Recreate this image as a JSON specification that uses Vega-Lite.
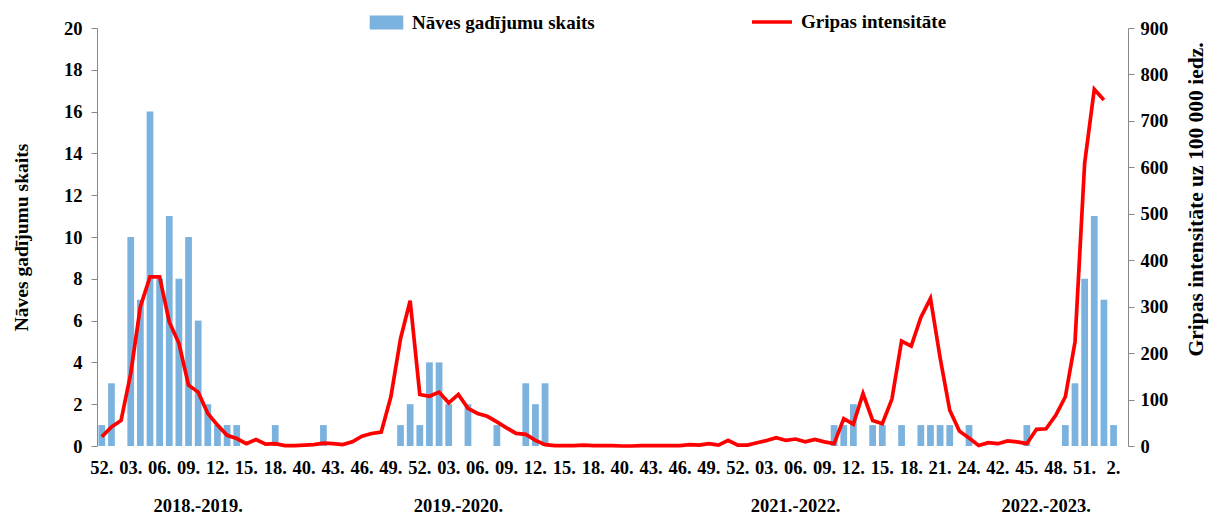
{
  "$schema": "https://vega.github.io/schema/vega-lite/v6.json",
  "width": 1031,
  "height": 418,
  "autosize": {"type": "none"},
  "padding": {"left": 97, "top": 28, "right": 91, "bottom": 84},
  "background": "white",
  "config": {
    "view": {"stroke": null},
    "font": "Liberation Serif",
    "axis": {"labelFont": "Liberation Serif", "titleFont": "Liberation Serif", "labelFontWeight": "bold", "titleFontWeight": "bold", "labelColor": "black", "titleColor": "black", "grid": false, "domainColor": "#898989", "tickColor": "#898989"},
    "legend": {"labelFont": "Liberation Serif", "labelFontWeight": "bold", "labelColor": "black", "labelFontSize": 19, "padding": 0, "labelLimit": 400}
  },
  "data": {"values": [
    {"i":0,"week":52,"deaths":1,"intensity":20},
    {"i":1,"week":1,"deaths":3,"intensity":41},
    {"i":2,"week":2,"deaths":0,"intensity":55},
    {"i":3,"week":3,"deaths":10,"intensity":156},
    {"i":4,"week":4,"deaths":7,"intensity":300},
    {"i":5,"week":5,"deaths":16,"intensity":364},
    {"i":6,"week":6,"deaths":8,"intensity":364},
    {"i":7,"week":7,"deaths":11,"intensity":267},
    {"i":8,"week":8,"deaths":8,"intensity":221},
    {"i":9,"week":9,"deaths":10,"intensity":131},
    {"i":10,"week":10,"deaths":6,"intensity":116},
    {"i":11,"week":11,"deaths":2,"intensity":70},
    {"i":12,"week":12,"deaths":1,"intensity":45},
    {"i":13,"week":13,"deaths":1,"intensity":23},
    {"i":14,"week":14,"deaths":1,"intensity":16},
    {"i":15,"week":15,"deaths":0,"intensity":5},
    {"i":16,"week":16,"deaths":0,"intensity":14},
    {"i":17,"week":17,"deaths":0,"intensity":4},
    {"i":18,"week":18,"deaths":1,"intensity":5},
    {"i":19,"week":19,"deaths":0,"intensity":1},
    {"i":20,"week":20,"deaths":0,"intensity":1},
    {"i":21,"week":40,"deaths":0,"intensity":2},
    {"i":22,"week":41,"deaths":0,"intensity":3},
    {"i":23,"week":42,"deaths":1,"intensity":6},
    {"i":24,"week":43,"deaths":0,"intensity":5},
    {"i":25,"week":44,"deaths":0,"intensity":3},
    {"i":26,"week":45,"deaths":0,"intensity":9},
    {"i":27,"week":46,"deaths":0,"intensity":21},
    {"i":28,"week":47,"deaths":0,"intensity":27},
    {"i":29,"week":48,"deaths":0,"intensity":30},
    {"i":30,"week":49,"deaths":0,"intensity":106},
    {"i":31,"week":50,"deaths":1,"intensity":231},
    {"i":32,"week":51,"deaths":2,"intensity":313},
    {"i":33,"week":52,"deaths":1,"intensity":111},
    {"i":34,"week":1,"deaths":4,"intensity":107},
    {"i":35,"week":2,"deaths":4,"intensity":116},
    {"i":36,"week":3,"deaths":2,"intensity":93},
    {"i":37,"week":4,"deaths":0,"intensity":111},
    {"i":38,"week":5,"deaths":2,"intensity":81},
    {"i":39,"week":6,"deaths":0,"intensity":70},
    {"i":40,"week":7,"deaths":0,"intensity":64},
    {"i":41,"week":8,"deaths":1,"intensity":52},
    {"i":42,"week":9,"deaths":0,"intensity":39},
    {"i":43,"week":10,"deaths":0,"intensity":27},
    {"i":44,"week":11,"deaths":3,"intensity":25},
    {"i":45,"week":12,"deaths":2,"intensity":12},
    {"i":46,"week":13,"deaths":3,"intensity":3},
    {"i":47,"week":14,"deaths":0,"intensity":1},
    {"i":48,"week":15,"deaths":0,"intensity":1},
    {"i":49,"week":16,"deaths":0,"intensity":1},
    {"i":50,"week":17,"deaths":0,"intensity":2},
    {"i":51,"week":18,"deaths":0,"intensity":1},
    {"i":52,"week":19,"deaths":0,"intensity":1},
    {"i":53,"week":20,"deaths":0,"intensity":1},
    {"i":54,"week":40,"deaths":0,"intensity":0},
    {"i":55,"week":41,"deaths":0,"intensity":0},
    {"i":56,"week":42,"deaths":0,"intensity":1},
    {"i":57,"week":43,"deaths":0,"intensity":1},
    {"i":58,"week":44,"deaths":0,"intensity":1},
    {"i":59,"week":45,"deaths":0,"intensity":1},
    {"i":60,"week":46,"deaths":0,"intensity":1},
    {"i":61,"week":47,"deaths":0,"intensity":3},
    {"i":62,"week":48,"deaths":0,"intensity":2},
    {"i":63,"week":49,"deaths":0,"intensity":5},
    {"i":64,"week":50,"deaths":0,"intensity":2},
    {"i":65,"week":51,"deaths":0,"intensity":12},
    {"i":66,"week":52,"deaths":0,"intensity":2},
    {"i":67,"week":1,"deaths":0,"intensity":2},
    {"i":68,"week":2,"deaths":0,"intensity":7},
    {"i":69,"week":3,"deaths":0,"intensity":12},
    {"i":70,"week":4,"deaths":0,"intensity":18},
    {"i":71,"week":5,"deaths":0,"intensity":12},
    {"i":72,"week":6,"deaths":0,"intensity":15},
    {"i":73,"week":7,"deaths":0,"intensity":9},
    {"i":74,"week":8,"deaths":0,"intensity":14},
    {"i":75,"week":9,"deaths":0,"intensity":9},
    {"i":76,"week":10,"deaths":1,"intensity":5},
    {"i":77,"week":11,"deaths":1,"intensity":59},
    {"i":78,"week":12,"deaths":2,"intensity":47},
    {"i":79,"week":13,"deaths":0,"intensity":113},
    {"i":80,"week":14,"deaths":1,"intensity":55},
    {"i":81,"week":15,"deaths":1,"intensity":48},
    {"i":82,"week":16,"deaths":0,"intensity":101},
    {"i":83,"week":17,"deaths":1,"intensity":226},
    {"i":84,"week":18,"deaths":0,"intensity":215},
    {"i":85,"week":19,"deaths":1,"intensity":277},
    {"i":86,"week":20,"deaths":1,"intensity":318},
    {"i":87,"week":21,"deaths":1,"intensity":190},
    {"i":88,"week":22,"deaths":1,"intensity":77},
    {"i":89,"week":23,"deaths":0,"intensity":32},
    {"i":90,"week":24,"deaths":1,"intensity":17},
    {"i":91,"week":40,"deaths":0,"intensity":1},
    {"i":92,"week":41,"deaths":0,"intensity":7},
    {"i":93,"week":42,"deaths":0,"intensity":5},
    {"i":94,"week":43,"deaths":0,"intensity":11},
    {"i":95,"week":44,"deaths":0,"intensity":9},
    {"i":96,"week":45,"deaths":1,"intensity":5},
    {"i":97,"week":46,"deaths":0,"intensity":36},
    {"i":98,"week":47,"deaths":0,"intensity":37},
    {"i":99,"week":48,"deaths":0,"intensity":66},
    {"i":100,"week":49,"deaths":1,"intensity":106},
    {"i":101,"week":50,"deaths":3,"intensity":224},
    {"i":102,"week":51,"deaths":8,"intensity":609},
    {"i":103,"week":52,"deaths":11,"intensity":768},
    {"i":104,"week":1,"deaths":7,"intensity":745},
    {"i":105,"week":2,"deaths":1,"intensity":null},
    {"i":106,"week":3,"deaths":null,"intensity":null}
  ]},
  "layer": [
    {
      "mark": {"type": "bar"},
      "encoding": {
        "x": {
          "field": "i", "type": "ordinal",
          "scale": {"domain": [0,1,2,3,4,5,6,7,8,9,10,11,12,13,14,15,16,17,18,19,20,21,22,23,24,25,26,27,28,29,30,31,32,33,34,35,36,37,38,39,40,41,42,43,44,45,46,47,48,49,50,51,52,53,54,55,56,57,58,59,60,61,62,63,64,65,66,67,68,69,70,71,72,73,74,75,76,77,78,79,80,81,82,83,84,85,86,87,88,89,90,91,92,93,94,95,96,97,98,99,100,101,102,103,104,105,106], "paddingInner": 0.3, "paddingOuter": 0.15},
          "axis": {
            "title": null, "orient": "bottom",
            "values": [0,3,6,9,12,15,18,21,24,27,30,33,36,39,42,45,48,51,54,57,60,63,66,69,72,75,78,81,84,87,90,93,96,99,102,105],
            "labelExpr": "['52.','03.','06.','09.','12.','15.','18.','40.','43.','46.','49.','52.','03.','06.','09.','12.','15.','18.','40.','43.','46.','49.','52.','03.','06.','09.','12.','15.','18.','21.','24.','42.','45.','48.','51.','2.'][datum.value/3]",
            "labelAngle": 0, "ticks": false, "domain": false, "labelPadding": 12, "labelFontSize": 18.5, "labelOverlap": false, "labelFlush": false
          }
        },
        "y": {
          "field": "deaths", "type": "quantitative",
          "scale": {"domain": [0, 20], "nice": false},
          "axis": {"title": "Nāves gadījumu skaits", "values": [0,2,4,6,8,10,12,14,16,18,20], "tickSize": 6, "labelPadding": 9, "titlePadding": 32, "labelFontSize": 18.5, "titleFontSize": 19.5}
        },
        "color": {
          "datum": "Nāves gadījumu skaits", "type": "nominal",
          "scale": {"range": ["#7cb2de"]},
          "legend": {"orient": "none", "legendX": 280, "legendY": -15, "title": null, "symbolType": "M-2.4,-1H2.4V1H-2.4Z", "symbolSize": 196, "symbolStrokeWidth": 0, "labelOffset": 16}
        }
      }
    },
    {
      "mark": {"type": "line", "strokeWidth": 3.7},
      "encoding": {
        "x": {
          "field": "i", "type": "ordinal",
          "axis": {
            "title": null, "orient": "bottom",
            "values": [10, 37, 72, 98],
            "labelExpr": "datum.value == 10 ? '2018.-2019.' : datum.value == 37 ? '2019.-2020.' : datum.value == 72 ? '2021.-2022.' : '2022.-2023.'",
            "labelAngle": 0, "ticks": false, "domain": false, "labelPadding": 50, "labelFontSize": 18.5, "labelOverlap": false, "labelFlush": false
          }
        },
        "y": {
          "field": "intensity", "type": "quantitative",
          "scale": {"domain": [0, 900], "nice": false},
          "axis": {"orient": "right", "title": "Gripas intensitāte uz 100 000 iedz.", "values": [0,100,200,300,400,500,600,700,800,900], "tickSize": 6, "labelPadding": 6, "titlePadding": 40, "titleAngle": 270, "titleY": 171, "labelFontSize": 18.5, "titleFontSize": 21.5}
        },
        "color": {
          "datum": "Gripas intensitāte", "type": "nominal",
          "scale": {"range": ["#ff0000"]},
          "legend": {"orient": "none", "legendX": 653, "legendY": -28, "title": null, "symbolType": "stroke", "symbolSize": 1600, "symbolStrokeWidth": 3.5, "labelOffset": 7}
        }
      }
    }
  ],
  "resolve": {"scale": {"y": "independent", "color": "independent"}, "axis": {"x": "independent"}, "legend": {"color": "independent"}}
}
